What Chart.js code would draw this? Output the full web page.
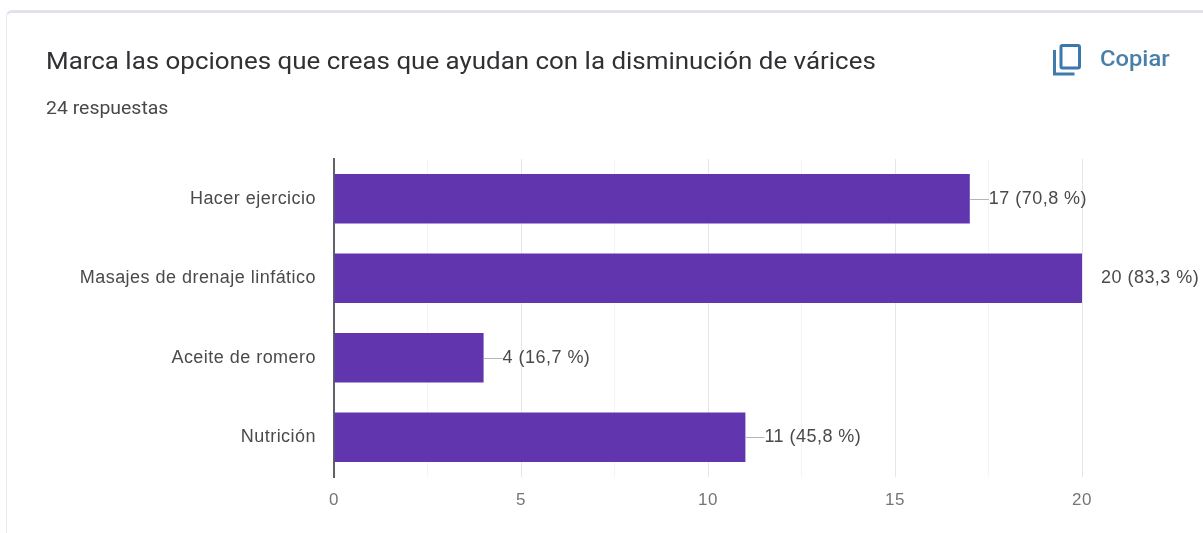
<!DOCTYPE html>
<html><head><meta charset="utf-8">
<script src="https://cdn.jsdelivr.net/npm/chart.js@4"></script>
<style>
html,body{margin:0;padding:0;background:#fff;width:1203px;height:533px;overflow:hidden}
#card{position:absolute;left:6px;top:10px;width:1197px;height:523px;border-top:3px solid #e3e1ee;border-left:1px solid #ebe9f3;border-top-left-radius:6px;box-sizing:border-box}
.t{position:absolute;font-family:Roboto,sans-serif;white-space:nowrap;transform-origin:left center;transform:scaleX(1.08)}
#title{left:46px;top:47px;font-size:24px;line-height:28px;color:#303134}
#sub{left:46px;top:98px;font-size:18px;line-height:20px;color:#46484b}
#copy{left:1100px;top:47px;font-size:22px;line-height:24px;color:#4a7fa8;font-weight:500}
#icon{position:absolute;left:1050px;top:43px}
canvas{position:absolute;left:0;top:0}
#title,#sub,#copy,#icon,canvas{filter:blur(.4px)}
</style></head><body>
<div id="card"></div>
<div class="t" id="title">Marca las opciones que creas que ayudan con la disminución de várices</div>
<div class="t" id="sub">24 respuestas</div>
<svg id="icon" width="34" height="34" viewBox="0 0 34 34"><path d="M4.5 7v24h20" fill="none" stroke="#3f7cab" stroke-width="3"/><rect x="11" y="2.5" width="18.5" height="22.5" rx="1.5" fill="none" stroke="#3a78ad" stroke-width="3"/></svg>
<div class="t" id="copy">Copiar</div>
<div id="wrap"><canvas id="c" width="1203" height="533"></canvas></div>
<script>
const categories = ["Hacer ejercicio","Masajes de drenaje linfático","Aceite de romero","Nutrición"];
const counts = [17,20,4,11];
const valueLabels = ["17 (70,8 %)","20 (83,3 %)","4 (16,7 %)","11 (45,8 %)"];
const axisMax = 20;
const fontFamily = '"Liberation Sans", Arial, sans-serif';
const labelPlugin = {
  id:'valueLabels',
  beforeDraw(chart){ chart.ctx.letterSpacing = '0.47px'; },
  afterDatasetsDraw(chart){
    const {ctx} = chart;
    const meta = chart.getDatasetMeta(0);
    ctx.save();
    ctx.font = '18px ' + fontFamily;
    ctx.textBaseline = 'middle';
    meta.data.forEach((bar,i)=>{
      const gap = 19;
      if(counts[i] !== axisMax){
        ctx.strokeStyle = '#b5b5b5'; ctx.lineWidth = 1;
        ctx.beginPath(); ctx.moveTo(bar.x, Math.round(bar.y)+.5); ctx.lineTo(bar.x+gap, Math.round(bar.y)+.5); ctx.stroke();
      }
      ctx.fillStyle = '#4a4a4a';
      ctx.fillText(valueLabels[i], bar.x+gap, bar.y);
    });
    ctx.restore();
  }
};
Chart.defaults.animation = false;
new Chart(document.getElementById('c'),{
  type:'bar',
  data:{labels:categories,datasets:[{data:counts,backgroundColor:'#6035ad',barPercentage:.62,categoryPercentage:1}]},
  options:{
    indexAxis:'y',responsive:false,
    layout:{padding:{top:159,right:121,left:0,bottom:0}},
    plugins:{legend:{display:false},tooltip:{enabled:false}},
    scales:{
      x:{min:0,max:axisMax,
        afterBuildTicks(s){s.ticks=[0,2.5,5,7.5,10,12.5,15,17.5,20].map(v=>({value:v}));},
        afterFit(s){s.height=56;},
        border:{display:false},
        grid:{drawTicks:false,color:c=>c.tick&&c.tick.value%5===0?'#e6e6e6':'#f4f4f4'},
        ticks:{autoSkip:false,maxRotation:0,padding:13,color:'#757575',font:{size:17,family:fontFamily},callback:v=>v%5===0?String(v):''}},
      y:{
        afterFit(s){s.width=334;},
        border:{display:true,color:'#5f6368',width:2},
        grid:{display:false},
        ticks:{padding:10,color:'#4a4a4a',font:{size:18,family:fontFamily}}}
    }
  },
  plugins:[labelPlugin]
});
</script>
</body></html>
